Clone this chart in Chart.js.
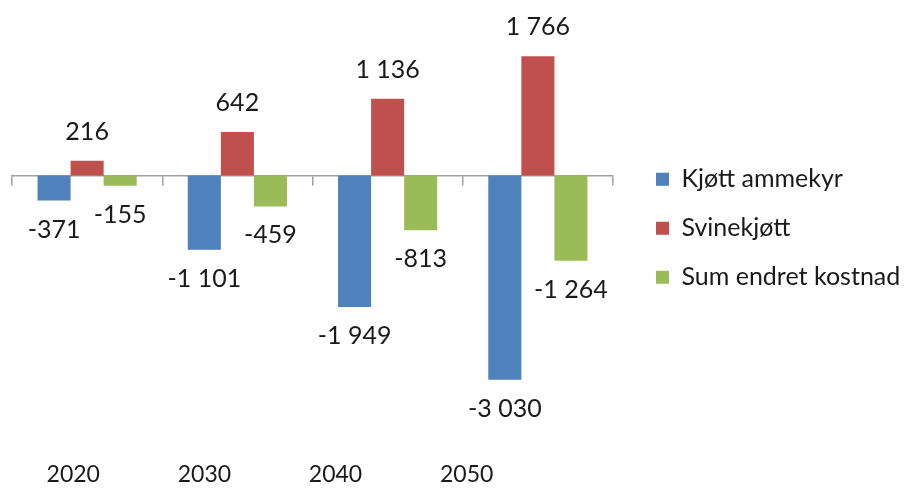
<!DOCTYPE html>
<html>
<head>
<meta charset="utf-8">
<script src="https://cdn.jsdelivr.net/npm/chart.js@4/dist/chart.umd.min.js"></script>
<style>
  html, body { margin: 0; padding: 0; background: #ffffff; }
  #wrap { width: 921px; height: 496px; }
</style>
</head>
<body>
<div id="wrap"><canvas id="chart" width="921" height="496"></canvas></div>
<script>
// Categories and series
const categories = ['2020', '2030', '2040', '2050'];
const seriesNames = ['Kjøtt ammekyr', 'Svinekjøtt', 'Sum endret kostnad'];
const kjottAmmekyr = [-371, -1101, -1949, -3030];
const svinekjott = [216, 642, 1136, 1766];
const sumEndretKostnad = [-155, -459, -813, -1264];
const seriesColors = ['#4F81BD', '#C0504D', '#9BBB59'];

const textColor = '#1a1a1a';
const axisColor = '#a0a0a0';
const fontFamily = 'Lato, "Open Sans", sans-serif';
const labelFontSize = 25;
const legendFontSize = 25;
const legendPadding = 24;
const legendBox = 13;

// Numbers with a space as thousands separator
function formatValue(v) {
  const s = String(Math.abs(v)).replace(/\B(?=(\d{3})+(?!\d))/g, ' ');
  return (v < 0 ? '-' : '') + s;
}

// Keep the legend's left edge at a fixed place whatever the label widths
const measureCtx = document.createElement('canvas').getContext('2d');
measureCtx.font = legendFontSize + 'px ' + fontFamily;
const widestLegendText = Math.max(...seriesNames.map(s => measureCtx.measureText(s).width));
const legendWidth = legendPadding + legendBox + legendFontSize / 2 + widestLegendText;
const legendLeft = 642;
const rightPad = Math.max(0, 921 - legendLeft - legendWidth);

// Value labels outside the end of each bar
const valueLabels = {
  id: 'valueLabels',
  afterDatasetsDraw(chart) {
    const ctx = chart.ctx;
    ctx.save();
    ctx.font = labelFontSize + 'px ' + fontFamily;
    ctx.fillStyle = textColor;
    ctx.textAlign = 'center';
    ctx.textBaseline = 'middle';
    chart.data.datasets.forEach((ds, i) => {
      chart.getDatasetMeta(i).data.forEach((bar, j) => {
        const v = ds.data[j];
        const y = v >= 0 ? bar.y - 29 : bar.y + 29;
        ctx.fillText(formatValue(v), bar.x, y);
      });
    });
    ctx.restore();
  }
};

const seriesValues = [kjottAmmekyr, svinekjott, sumEndretKostnad];

new Chart(document.getElementById('chart'), {
  type: 'bar',
  data: {
    labels: categories,
    datasets: seriesNames.map((name, i) => ({
      label: name,
      data: seriesValues[i],
      backgroundColor: seriesColors[i],
      borderWidth: 0,
      categoryPercentage: 0.66,
      barPercentage: 1.0,
      xAxisID: 'x',
      yAxisID: 'y'
    }))
  },
  options: {
    responsive: false,
    animation: false,
    layout: { padding: { left: 12, top: 4, right: rightPad, bottom: 0 } },
    plugins: {
      tooltip: { enabled: false },
      legend: {
        position: 'right',
        fullSize: false,
        align: 'center',
        maxWidth: 400,
        labels: {
          boxWidth: legendBox,
          boxHeight: legendBox,
          padding: legendPadding,
          color: textColor,
          font: { family: fontFamily, size: legendFontSize }
        }
      }
    },
    scales: {
      x: {
        type: 'category',
        position: { y: 0 },
        offset: true,
        ticks: { display: false },
        grid: {
          offset: true,
          drawOnChartArea: false,
          drawTicks: true,
          tickLength: 9,
          color: axisColor,
          lineWidth: 1.5
        },
        border: { display: true, color: axisColor, width: 1.5 }
      },
      years: {
        type: 'linear',
        axis: 'x',
        position: 'bottom',
        bounds: 'data',
        offset: false,
        min: 2015.33,
        max: 2061.16,
        grid: { display: false, drawTicks: false, offset: false },
        border: { display: false },
        afterBuildTicks(axis) {
          axis.ticks = categories.map(c => ({ value: Number(c) }));
        },
        ticks: {
          padding: 8,
          maxRotation: 0,
          autoSkip: false,
          color: textColor,
          font: { family: fontFamily, size: 23 },
          callback: v => String(v)
        }
      },
      y: {
        type: 'linear',
        position: 'right',
        min: -4106,
        max: 2541,
        ticks: { display: false },
        grid: { display: false, drawTicks: false },
        border: { display: false },
        afterFit(scale) { scale.width = 19; }
      }
    }
  },
  plugins: [valueLabels]
});
</script>
</body>
</html>
